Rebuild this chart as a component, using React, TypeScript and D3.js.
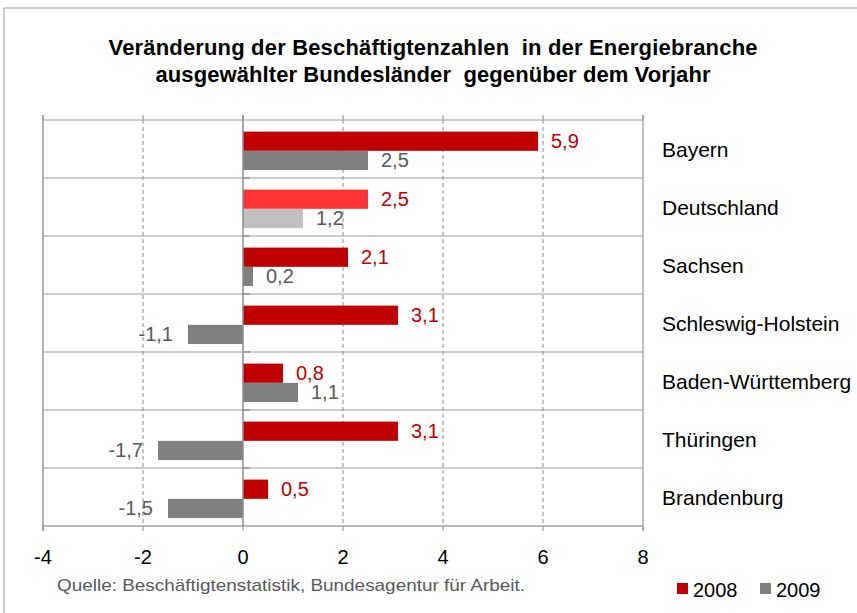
import React from "react";
import * as d3 from "d3";

const categories = ["Bayern", "Deutschland", "Sachsen", "Schleswig-Holstein", "Baden-Württemberg", "Thüringen", "Brandenburg"];
const values2008 = [5.9, 2.5, 2.1, 3.1, 0.8, 3.1, 0.5];
const values2009 = [2.5, 1.2, 0.2, -1.1, 1.1, -1.7, -1.5];
const seriesNames = ["2008", "2009"];
const xTicks = [-4, -2, 0, 2, 4, 6, 8];
const titleLines = [
  "Veränderung der Beschäftigtenzahlen  in der Energiebranche",
  "ausgewählter Bundesländer  gegenüber dem Vorjahr",
];
const sourceText = "Quelle: Beschäftigtenstatistik, Bundesagentur für Arbeit.";

const W = 857;
const H = 613;
const FONT = "'Liberation Sans', Arial, sans-serif";
const RED = "#C00000";
const GRAY = "#808080";
const RED_HI = "#FF3333";
const GRAY_HI = "#C0C0C0";
const HIGHLIGHT = "Deutschland";
const titleWidths = [649, 555];

export default function App() {
  const plot = { left: 43, right: 643, top: 120, bottom: 526 };
  const x = d3.scaleLinear().domain([-4, 8]).range([plot.left, plot.right]);
  const y = d3.scaleBand<string>().domain(categories).range([plot.top, plot.bottom]).padding(0);
  const step = y.step();
  const sub = d3.scaleBand<string>().domain(seriesNames).range([step * 0.2, step * 0.863]).padding(0);
  const locale = d3.formatLocale({ decimal: ",", thousands: ".", grouping: [3], currency: ["", "€"], minus: "-" });
  const fmt = locale.format(".1f");

  const bars: any[] = [];
  categories.forEach((c, i) => {
    [values2008[i], values2009[i]].forEach((v, s) => {
      const hi = c === HIGHLIGHT;
      const fill = s === 0 ? (hi ? RED_HI : RED) : hi ? GRAY_HI : GRAY;
      bars.push({ c, v, s, fill });
    });
  });

  return (
    <svg width={W} height={H} style={{ position: "absolute", left: 0, top: 0, background: "#fff" }} fontFamily={FONT}>
      <rect x={0} y={0} width={W} height={H} fill="#fff" />
      <rect x={4} y={8} width={W + 20} height={H + 20} fill="none" stroke="#bfbfbf" strokeWidth={1.5} />

      {titleLines.map((t, i) => (
        <text
          key={i}
          x={433}
          y={55 + i * 27}
          textAnchor="middle"
          fontSize={22}
          fontWeight="bold"
          fill="#000"
          style={{ whiteSpace: "pre" }}
          textLength={titleWidths[i]}
          lengthAdjust="spacing"
        >
          {t}
        </text>
      ))}

      {categories.map((c, i) => (
        <line key={"h" + i} x1={plot.left} x2={plot.right} y1={y(c)!} y2={y(c)!} stroke="#bdbdbd" strokeWidth={1.3} />
      ))}
      <line x1={plot.left} x2={plot.right} y1={plot.bottom} y2={plot.bottom} stroke="#a6a6a6" strokeWidth={1.5} />

      {xTicks.map((t) => {
        const px = x(t);
        if (t === 0 || t === -4 || t === 8) return null;
        return <line key={"g" + t} x1={px} x2={px} y1={plot.top} y2={plot.bottom} stroke="#8c8c8c" strokeWidth={1} strokeDasharray="4 3" />;
      })}
      <line x1={x(-4)} x2={x(-4)} y1={plot.top - 5} y2={plot.bottom + 5} stroke="#999" strokeWidth={1.5} />
      <line x1={x(8)} x2={x(8)} y1={plot.top - 5} y2={plot.bottom + 5} stroke="#aaa" strokeWidth={1.5} />
      {xTicks.map((t) => (
        <g key={"t" + t}>
          <line x1={x(t)} x2={x(t)} y1={plot.top - 5} y2={plot.top} stroke="#999" strokeWidth={1.2} />
          <line x1={x(t)} x2={x(t)} y1={plot.bottom} y2={plot.bottom + 5} stroke="#999" strokeWidth={1.2} />
        </g>
      ))}

      {bars.map((b, i) => {
        const y0 = y(b.c)! + sub(seriesNames[b.s])!;
        const x0 = x(Math.min(0, b.v));
        const w = Math.abs(x(b.v) - x(0));
        return <rect key={"b" + i} x={x0} y={y0} width={w} height={sub.bandwidth()} fill={b.fill} />;
      })}

      <line x1={x(0)} x2={x(0)} y1={plot.top - 5} y2={plot.bottom} stroke="#8c8c8c" strokeWidth={1.5} />
      {categories.map((c, i) =>
        i === 0 ? null : <line key={"zt" + i} x1={x(0)} x2={x(0) + 7} y1={y(c)!} y2={y(c)!} stroke="#8c8c8c" strokeWidth={1.3} />
      )}

      {bars.map((b, i) => {
        const cy = y(b.c)! + sub(seriesNames[b.s])! + sub.bandwidth() / 2 + 7;
        const pos = b.v >= 0;
        const lx = pos ? x(b.v) + 13 : x(b.v) - 15;
        return (
          <text key={"l" + i} x={lx} y={cy} fontSize={20} textAnchor={pos ? "start" : "end"} fill={b.s === 0 ? RED : "#595959"}>
            {fmt(b.v)}
          </text>
        );
      })}

      {categories.map((c) => (
        <text key={"c" + c} x={662} y={y(c)! + step / 2 + 8} fontSize={21} fill="#000">
          {c}
        </text>
      ))}

      {xTicks.map((t) => (
        <text key={"xl" + t} x={x(t)} y={564} fontSize={20} textAnchor="middle" fill="#000">
          {String(t)}
        </text>
      ))}

      <text x={57} y={591} fontSize={17} fill="#595959" textLength={468} lengthAdjust="spacingAndGlyphs">
        {sourceText}
      </text>

      {seriesNames.map((s, i) => (
        <g key={"lg" + s} transform={`translate(${677 + i * 83},583)`}>
          <rect x={0} y={0} width={11} height={11} fill={i === 0 ? RED : GRAY} />
          <text x={16} y={14} fontSize={20} fill="#000">
            {s}
          </text>
        </g>
      ))}
    </svg>
  );
}
